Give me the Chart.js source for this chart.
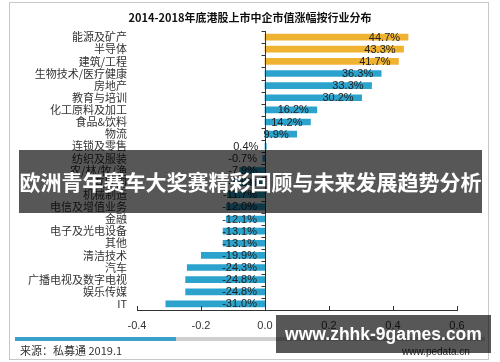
<!DOCTYPE html>
<html>
<head>
<meta charset="utf-8">
<script src="https://cdn.jsdelivr.net/npm/chart.js@4/dist/chart.umd.min.js"></script>
<style>
  body { margin: 0; background: #fff; }
  .wrap { position: relative; width: 500px; height: 362px; overflow: hidden; background: #fff; }
  .wrap canvas { position: absolute; left: 0; top: 0; }
  .frame { position: absolute; left: 9px; top: 2px; width: 480px; height: 358px; border: 1px solid #c8c8c8; box-sizing: border-box; }
  .title { position: absolute; left: 0; width: 500px; top: 9px; text-align: center; font: bold 11px "Noto Sans CJK SC", sans-serif; color: #111; }
  .strip { position: absolute; top: 337px; height: 4px; }
  .source { position: absolute; left: 20px; top: 342px; font: 11px "Noto Sans CJK SC", sans-serif; color: #333; }
  .site { position: absolute; left: 402px; top: 346px; font: 10px "Liberation Sans", Arial, sans-serif; color: #333; }
  .banner { position: absolute; background: rgba(0,0,0,0.66); color: #fff; font-weight: bold; text-align: center; white-space: nowrap; }
  .b1 { left: 19px; top: 150px; width: 463px; height: 63px; line-height: 63px; font-size: 21px; font-family: "Noto Sans CJK SC", sans-serif; }
  .b2 { left: 276px; top: 315px; width: 215px; height: 38px; line-height: 38px; font-size: 17.5px; font-family: "Liberation Sans", Arial, sans-serif; }
</style>
</head>
<body>
<div class="wrap">
  <canvas id="chart" width="500" height="362"></canvas>
  <div class="frame"></div>
  <div class="title">2014-2018年底港股上市中企市值涨幅按行业分布</div>
  <div class="strip" style="left:15px;width:161px;background:#3a9fc9"></div>
  <div class="strip" style="left:176px;width:309px;background:#cfcfcf"></div>
  <div class="source">来源：私募通 2019.1</div>
  <div class="site">www.pedata.cn</div>
  <div class="banner b1">欧洲青年赛车大奖赛精彩回顾与未来发展趋势分析</div>
  <div class="banner b2">www.zhhk-9games.com</div>
</div>
<script>
const industries = [
  "能源及矿产", "半导体", "建筑/工程", "生物技术/医疗健康", "房地产", "教育与培训",
  "化工原料及加工", "食品&饮料", "物流", "连锁及零售", "纺织及服装", "农/林/牧/渔",
  "互联网", "机械制造", "电信及增值业务", "金融", "电子及光电设备", "其他",
  "清洁技术", "汽车", "广播电视及数字电视", "娱乐传媒", "IT"
];
const growth = [
  0.447, 0.433, 0.417, 0.363, 0.333, 0.302,
  0.162, 0.142, 0.099, 0.004, -0.007, -0.079,
  -0.096, -0.117, -0.120, -0.121, -0.131, -0.131,
  -0.199, -0.243, -0.248, -0.248, -0.310
];
const xTicks = [-0.4, -0.2, 0.0, 0.2, 0.4, 0.6];

const gold = "#f0b331";
const blue = "#2ba3cd";

// value labels, right aligned just inside the bar end (or left of the zero line)
const barLabels = {
  id: "barLabels",
  afterDatasetsDraw(chart) {
    const ctx = chart.ctx;
    const meta = chart.getDatasetMeta(0);
    ctx.save();
    ctx.font = "11px 'Liberation Sans', Arial, sans-serif";
    ctx.fillStyle = "#222";
    ctx.textAlign = "right";
    ctx.textBaseline = "middle";
    meta.data.forEach((el, i) => {
      const right = Math.max(el.x, el.base) - 8;
      ctx.fillText((growth[i] * 100).toFixed(1) + "%", right, el.y + 0.5);
    });
    ctx.restore();
  }
};

// zero line with small tick marks, and inward ticks on the x axis
const axisMarks = {
  id: "axisMarks",
  afterDatasetsDraw(chart) {
    const ctx = chart.ctx;
    const xs = chart.scales.x;
    const ys = chart.scales.y;
    const x0 = Math.round(xs.getPixelForValue(0)) + 0.5;
    ctx.save();
    ctx.strokeStyle = "#333";
    ctx.lineWidth = 1;
    ctx.beginPath();
    ctx.moveTo(x0, ys.top);
    ctx.lineTo(x0, ys.bottom);
    const n = industries.length;
    for (let i = 0; i <= n; i++) {
      const y = Math.round(ys.top + i * ys.height / n) + 0.5;
      ctx.moveTo(x0 - 4, y);
      ctx.lineTo(x0, y);
    }
    xTicks.forEach(v => {
      const x = Math.round(xs.getPixelForValue(v)) + 0.5;
      ctx.moveTo(x, xs.top);
      ctx.lineTo(x, xs.top - 4);
    });
    ctx.stroke();
    ctx.restore();
  }
};

new Chart(document.getElementById("chart"), {
  type: "bar",
  data: {
    labels: industries,
    datasets: [{
      data: growth,
      backgroundColor: growth.map((v, i) => i < 3 ? gold : blue),
      barThickness: 6,
      borderWidth: 0
    }]
  },
  options: {
    indexAxis: "y",
    responsive: false,
    animation: false,
    devicePixelRatio: 1,
    layout: { padding: { left: 0, right: 43, top: 31, bottom: 22 } },
    plugins: {
      legend: { display: false },
      tooltip: { enabled: false }
    },
    scales: {
      x: {
        min: -0.4,
        max: 0.6,
        afterFit: s => { s.height = 30; },
        afterBuildTicks: s => { s.ticks = xTicks.map(v => ({ value: v })); },
        grid: { display: false, drawTicks: false },
        border: { display: true, color: "#333", width: 1 },
        ticks: {
          padding: 9,
          color: "#333",
          font: { family: "'Liberation Sans', Arial, sans-serif", size: 11 },
          callback: v => v.toFixed(1)
        }
      },
      y: {
        afterFit: s => { s.width = 137; },
        grid: { display: false, drawTicks: false },
        border: { display: false },
        ticks: {
          autoSkip: false,
          padding: 10,
          color: "#333",
          font: { family: "'Noto Sans CJK SC', sans-serif", size: 11 }
        }
      }
    }
  },
  plugins: [barLabels, axisMarks]
});
</script>
</body>
</html>
